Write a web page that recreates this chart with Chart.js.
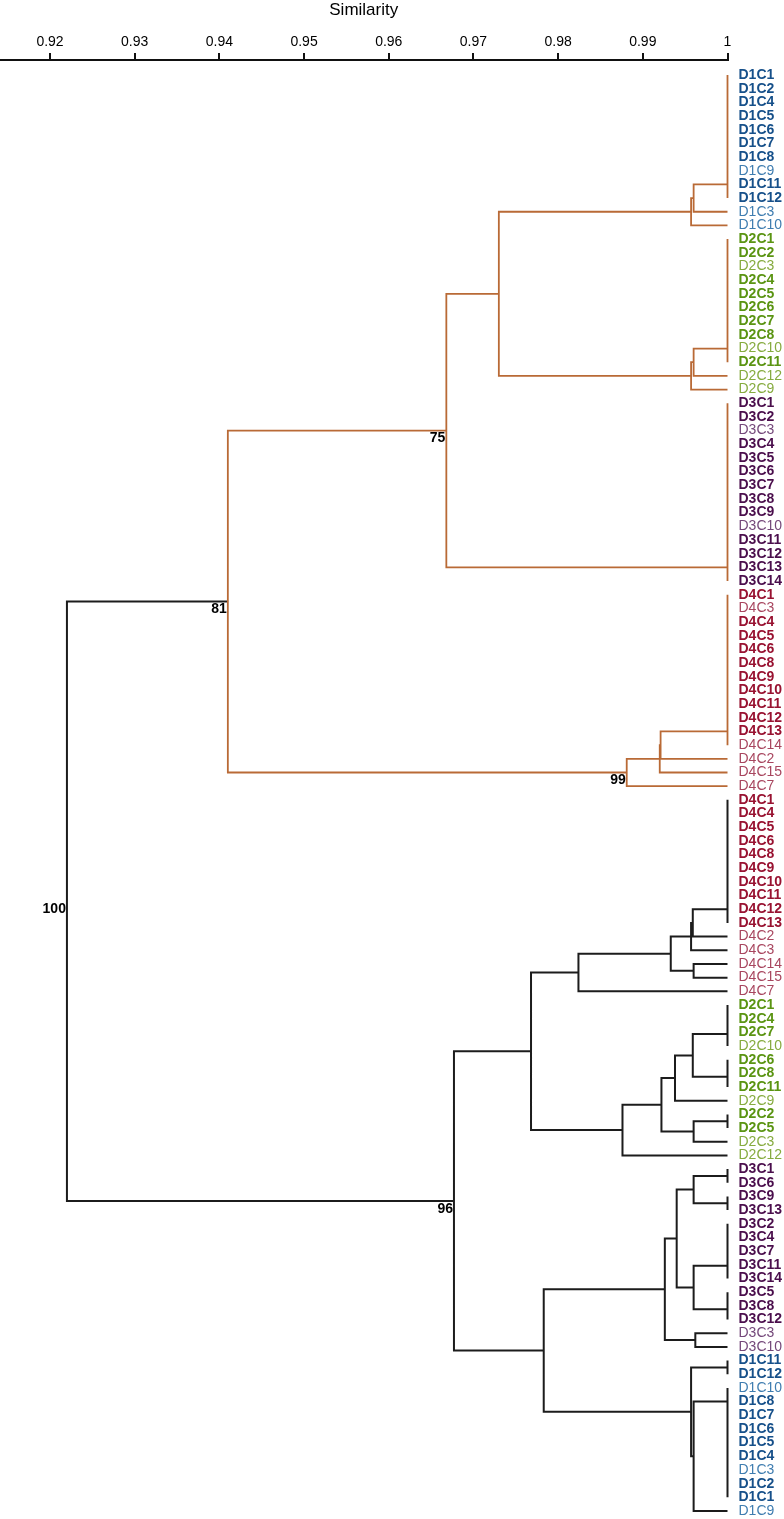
<!DOCTYPE html>
<html>
<head>
<meta charset="utf-8">
<script src="https://cdn.jsdelivr.net/npm/chart.js@4.4.1/dist/chart.umd.min.js"></script>
<style>
  html, body { margin: 0; padding: 0; background: #fff; }
</style>
</head>
<body>
<canvas id="dendro" width="784" height="1519"></canvas>
<script>
// leaf order, top to bottom (first 53 rows = orange tree, rest = black tree)
const leaves = [
  'D1C1', 'D1C2', 'D1C4', 'D1C5', 'D1C6', 'D1C7', 'D1C8', 'D1C9', 'D1C11', 'D1C12', 'D1C3', 'D1C10',
  'D2C1', 'D2C2', 'D2C3', 'D2C4', 'D2C5', 'D2C6', 'D2C7', 'D2C8', 'D2C10', 'D2C11', 'D2C12', 'D2C9',
  'D3C1', 'D3C2', 'D3C3', 'D3C4', 'D3C5', 'D3C6', 'D3C7', 'D3C8', 'D3C9', 'D3C10', 'D3C11', 'D3C12', 'D3C13', 'D3C14',
  'D4C1', 'D4C3', 'D4C4', 'D4C5', 'D4C6', 'D4C8', 'D4C9', 'D4C10', 'D4C11', 'D4C12', 'D4C13', 'D4C14', 'D4C2', 'D4C15', 'D4C7',
  'D4C1', 'D4C4', 'D4C5', 'D4C6', 'D4C8', 'D4C9', 'D4C10', 'D4C11', 'D4C12', 'D4C13', 'D4C2', 'D4C3', 'D4C14', 'D4C15', 'D4C7',
  'D2C1', 'D2C4', 'D2C7', 'D2C10', 'D2C6', 'D2C8', 'D2C11', 'D2C9', 'D2C2', 'D2C5', 'D2C3', 'D2C12',
  'D3C1', 'D3C6', 'D3C9', 'D3C13', 'D3C2', 'D3C4', 'D3C7', 'D3C11', 'D3C14', 'D3C5', 'D3C8', 'D3C12', 'D3C3', 'D3C10',
  'D1C11', 'D1C12', 'D1C10', 'D1C8', 'D1C7', 'D1C6', 'D1C5', 'D1C4', 'D1C3', 'D1C2', 'D1C1', 'D1C9'
];
const orangeRows = 53;

// leaves written in normal weight (the rest are bold)
const lightLeaves = ['D1C3', 'D1C9', 'D1C10', 'D2C3', 'D2C9', 'D2C10', 'D2C12',
                     'D3C3', 'D3C10', 'D4C2', 'D4C3', 'D4C7', 'D4C14', 'D4C15'];

const boldColors  = { D1: '#16508a', D2: '#5a9412', D3: '#4a0e4c', D4: '#981231' };
const lightColors = { D1: '#3f7db0', D2: '#86ab3f', D3: '#74487a', D4: '#a8465f' };

const xTicks = [0.92, 0.93, 0.94, 0.95, 0.96, 0.97, 0.98, 0.99, 1];
const xTickLabels = ['0.92', '0.93', '0.94', '0.95', '0.96', '0.97', '0.98', '0.99', '1'];

// runs of leaves joined at similarity 1, merged in the listed direction (G0, G1, ...)
const flatGroups = [
  [0, 9], [12, 21], [24, 37], [38, 49],
  [53, 62], [68, 71], [72, 74], [76, 77], [80, 81], [82, 83], [84, 88], [89, 91], [94, 95], [104, 96]
];

// merges: left, right, similarity  (Lk = leaf row k, Gk = flat group k, Nk = merge k)
const merges = [
  ['G0', 'L10', 0.9960],   // N0
  ['N0', 'L11', 0.9957],   // N1
  ['G1', 'L22', 0.9960],   // N2
  ['N2', 'L23', 0.9957],   // N3
  ['N1', 'N3', 0.9730],    // N4
  ['N4', 'G2', 0.9668],    // N5
  ['G3', 'L50', 0.9921],   // N6
  ['N6', 'L51', 0.9920],   // N7
  ['N7', 'L52', 0.9881],   // N8
  ['N5', 'N8', 0.9410],    // N9
  ['G4', 'L63', 0.9959],   // N10
  ['N10', 'L64', 0.9957],  // N11
  ['L65', 'L66', 0.9960],  // N12
  ['N11', 'N12', 0.9933],  // N13
  ['N13', 'L67', 0.9824],  // N14
  ['G5', 'G6', 0.9959],    // N15
  ['N15', 'L75', 0.9938],  // N16
  ['G7', 'L78', 0.9960],   // N17
  ['N16', 'N17', 0.9922],  // N18
  ['N18', 'L79', 0.9876],  // N19
  ['N14', 'N19', 0.9768],  // N20
  ['G8', 'G9', 0.9960],    // N21
  ['G10', 'G11', 0.9960],  // N22
  ['N21', 'N22', 0.9940],  // N23
  ['L92', 'L93', 0.9962],  // N24
  ['N23', 'N24', 0.9926],  // N25
  ['G13', 'L105', 0.9960], // N26
  ['G12', 'N26', 0.9957],  // N27
  ['N25', 'N27', 0.9783],  // N28
  ['N20', 'N28', 0.9677],  // N29
  ['N9', 'N29', 0.9220]    // N30
];

// bootstrap support shown at nodes
const supportNodes = ['N5', 'N9', 'N8', 'N30', 'N29'];
const supportValues = ['75', '81', '99', '100', '96'];

const FONT = "'Liberation Sans', Arial, sans-serif";
const ORANGE = '#b96a36';
const BLACK = '#1c1c1c';

// build branch paths
const nodes = {};
leaves.forEach((n, i) => { nodes['L' + i] = { x: 1, y: i, maxRow: i }; });
const paths = { orange: [], black: [] };
function addPath(col, pts) {
  paths[col].push(...pts, { x: null, y: null });
}
flatGroups.forEach(([a, b], g) => {
  const step = b > a ? 1 : -1;
  const col = Math.max(a, b) < orangeRows ? 'orange' : 'black';
  let pos = a;
  for (let r = a + step; r !== b + step; r += step) {
    addPath(col, [{ x: 1, y: pos }, { x: 1, y: r }]);
    pos = (pos + r) / 2;
  }
  nodes['G' + g] = { x: 1, y: pos, maxRow: Math.max(a, b) };
});
merges.forEach(([l, r, s], k) => {
  const A = nodes[l], B = nodes[r];
  const maxRow = Math.max(A.maxRow, B.maxRow);
  const col = maxRow < orangeRows ? 'orange' : 'black';
  addPath(col, [{ x: A.x, y: A.y }, { x: s, y: A.y }, { x: s, y: B.y }, { x: B.x, y: B.y }]);
  nodes['N' + k] = { x: s, y: (A.y + B.y) / 2, maxRow };
});

const supportLabels = {
  id: 'supportLabels',
  afterDatasetsDraw(chart) {
    const { ctx, scales: { x, y } } = chart;
    ctx.save();
    ctx.font = 'bold 14px ' + FONT;
    ctx.fillStyle = '#000';
    ctx.textAlign = 'right';
    ctx.textBaseline = 'middle';
    supportNodes.forEach((id, i) => {
      const n = nodes[id];
      ctx.fillText(supportValues[i], x.getPixelForValue(n.x) - 1, y.getPixelForValue(n.y) + 8);
    });
    ctx.restore();
  }
};

function leafColor(i) {
  const name = leaves[i];
  const key = name.slice(0, 2);
  return lightLeaves.includes(name) ? lightColors[key] : boldColors[key];
}

new Chart(document.getElementById('dendro'), {
  type: 'scatter',
  data: {
    datasets: [
      { data: paths.orange, showLine: true, borderColor: ORANGE, borderWidth: 1.8, clip: false },
      { data: paths.black, showLine: true, borderColor: BLACK, borderWidth: 2, clip: false }
    ]
  },
  options: {
    responsive: false,
    animation: false,
    devicePixelRatio: 1,
    spanGaps: false,
    layout: { padding: 0 },
    elements: {
      point: { radius: 0, hoverRadius: 0 },
      line: { tension: 0, borderJoinStyle: 'miter', fill: false }
    },
    plugins: { legend: { display: false }, tooltip: { enabled: false } },
    scales: {
      x: {
        type: 'linear',
        position: 'top',
        min: 0.92 - 50 / 8468.75,
        max: 1,
        afterBuildTicks: (scale) => { scale.ticks = xTicks.map(v => ({ value: v })); },
        afterFit: (scale) => { scale.height = 60; scale.paddingLeft = 0; scale.paddingRight = 0; },
        ticks: {
          autoSkip: false,
          maxRotation: 0,
          padding: 2,
          color: '#000',
          font: { family: FONT, size: 14 },
          callback: (v, i) => xTickLabels[i]
        },
        grid: { drawOnChartArea: false, drawTicks: true, tickLength: 7, tickColor: '#111', tickWidth: 2, lineWidth: 2 },
        border: { display: true, color: '#111', width: 2 },
        title: {
          display: true,
          text: 'Similarity',
          color: '#000',
          font: { family: FONT, size: 17 },
          padding: { top: 0, bottom: 0 }
        }
      },
      y: {
        type: 'linear',
        position: 'right',
        reverse: true,
        min: -1.097,
        max: 105.585,
        afterBuildTicks: (scale) => { scale.ticks = leaves.map((n, i) => ({ value: i })); },
        afterFit: (scale) => { scale.width = 784 - 727.5; scale.paddingTop = 0; scale.paddingBottom = 0; },
        ticks: {
          autoSkip: false,
          padding: 11,
          callback: (v) => leaves[v],
          color: (ctx) => leafColor(ctx.tick ? ctx.tick.value : ctx.index),
          font: (ctx) => {
            const i = ctx.tick ? ctx.tick.value : ctx.index;
            return { family: FONT, size: 14, weight: lightLeaves.includes(leaves[i]) ? 'normal' : 'bold' };
          }
        },
        grid: { display: false, drawTicks: false },
        border: { display: false }
      }
    }
  },
  plugins: [supportLabels]
});
</script>
</body>
</html>
